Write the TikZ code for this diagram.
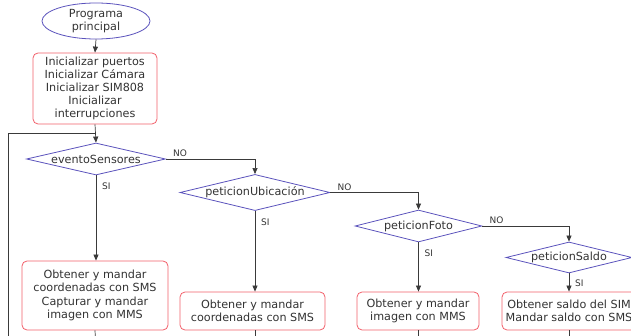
\documentclass[tikz,border=0pt]{standalone}
\usepackage{fontspec}
\setmainfont{DejaVu Sans}
\usetikzlibrary{shapes.geometric,arrows.meta}
\definecolor{decblue}{HTML}{5A52BC}
\definecolor{procred}{HTML}{F2606A}
\definecolor{txtgray}{HTML}{333333}
\definecolor{linegray}{HTML}{3A3A3A}
\begin{document}
\begin{tikzpicture}[x=1pt,y=-1pt,
  every node/.style={font=\fontsize{11.2}{13.2}\selectfont, text=txtgray, align=center, inner sep=0pt},
  startnode/.style={ellipse, draw=decblue, line width=0.8pt, minimum width=108pt, minimum height=36pt},
  procbox/.style={rectangle, rounded corners=5pt, draw=procred, fill=white, line width=0.8pt},
  decision/.style={diamond, draw=decblue, line width=0.8pt, aspect=4},
  flow/.style={draw=linegray, line width=0.7pt},
  arrowflow/.style={flow, -{Triangle[length=6pt,width=5pt]}},
  lbl/.style={font=\fontsize{9}{10}\selectfont}
]
\useasboundingbox (0,0) rectangle (631,336);
\clip (0,0) rectangle (631,336);

% main program start
\node[startnode] (start) at (96,21) {Programa\\principal};
\node[procbox, minimum width=124pt, minimum height=71pt] (init) at (95,88.5)
  {Inicializar puertos\\Inicializar Cámara\\Inicializar SIM808\\Inicializar\\interrupciones};

% decisions
\node[decision, minimum width=139pt, minimum height=32pt] (d1) at (96,159) {eventoSensores};
\node[decision, minimum width=150pt, minimum height=31pt] (d2) at (255,192.5) {peticionUbicación};
\node[decision, minimum width=127pt, minimum height=32pt] (d3) at (418.5,226) {peticionFoto};
\node[decision, minimum width=126pt, minimum height=31pt] (d4) at (569,257.5) {peticionSaldo};

% actions
\node[procbox, minimum width=146pt, minimum height=69pt] (a1) at (95,295.5)
  {Obtener y mandar\\coordenadas con SMS\\Capturar y mandar\\imagen con MMS};
\node[procbox, minimum width=145pt, minimum height=38pt] (a2) at (252.5,311)
  {Obtener y mandar\\coordenadas con SMS};
\node[procbox, minimum width=122pt, minimum height=38pt] (a3) at (418,311)
  {Obtener y mandar\\imagen con MMS};
\node[procbox, minimum width=134pt, minimum height=38pt] (a4) at (569,311)
  {Obtener saldo del SIM\\Mandar saldo con SMS};

% loose ends below the visible area
\coordinate (loopbot) at (8,350);
\coordinate (loopcorner) at (96,133);
\coordinate (e1) at (96,350);
\coordinate (e2) at (255,350);
\coordinate (e3) at (418,350);
\coordinate (e4) at (569,350);

% connectors
\draw[arrowflow] (start.south) -- (init.north);
\draw[arrowflow] (init.south) -- (d1.north);
\draw[flow] (loopbot) |- (loopcorner);

\draw[arrowflow] (d1.east) -| (d2.north);
\draw[arrowflow] (d2.east) -| (d3.north);
\draw[arrowflow] (d3.east) -| (d4.north);

\draw[arrowflow] (d1.south) -- (d1.south |- a1.north);
\draw[arrowflow] (d2.south) -- (d2.south |- a2.north);
\draw[arrowflow] (d3.south) -- (d3.south |- a3.north);
\draw[arrowflow] (d4.south) -- (d4.south |- a4.north);

% branch labels
\node[lbl, anchor=south west] (no1) at ([xshift=7pt,yshift=2pt]d1.east) {NO};
\node[lbl, anchor=south west] (no2) at ([xshift=7pt,yshift=2pt]d2.east) {NO};
\node[lbl, anchor=south west] (no3) at ([xshift=7pt,yshift=2pt]d3.east) {NO};
\node[lbl, anchor=west] (si1) at ([xshift=6pt,yshift=-11pt]d1.south) {SI};
\node[lbl, anchor=west] (si2) at ([xshift=6pt,yshift=-11pt]d2.south) {SI};
\node[lbl, anchor=west] (si3) at ([xshift=6pt,yshift=-11pt]d3.south) {SI};
\node[lbl, anchor=west] (si4) at ([xshift=6pt,yshift=-10pt]d4.south) {SI};

\draw[flow] (a1.south) -- (e1);
\draw[flow] (a2.south -| e2) -- (e2);
\draw[flow] (a3.south) -- (e3);
\draw[flow] (a4.south) -- (e4);
\end{tikzpicture}
\end{document}
